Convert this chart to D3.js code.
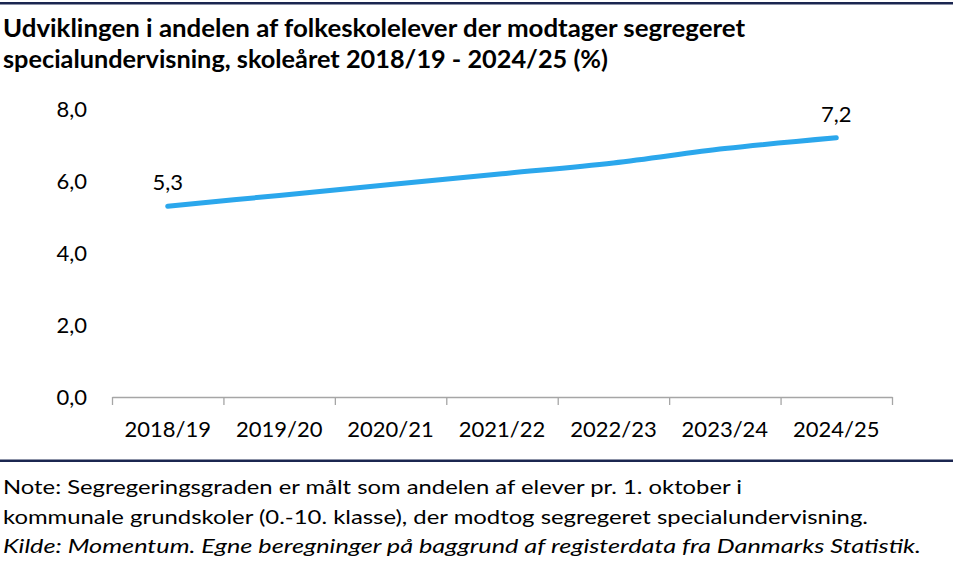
<!DOCTYPE html>
<html>
<head>
<meta charset="utf-8">
<script src="https://cdn.jsdelivr.net/npm/d3@7"></script>
<style>
  html, body { margin: 0; padding: 0; background: #fff; }
  svg { display: block; font-family: Lato, "Open Sans", sans-serif; }
</style>
</head>
<body>
<svg id="chart" width="955" height="582"></svg>
<script>
// ---- data ----
const categories = ["2018/19", "2019/20", "2020/21", "2021/22", "2022/23", "2023/24", "2024/25"];
const values = [5.3, 5.6, 5.9, 6.2, 6.5, 6.9, 7.2];
const yTicks = [0, 2, 4, 6, 8];
const titleLines = [
  "Udviklingen i andelen af folkeskolelever der modtager segregeret",
  "specialundervisning, skoleåret 2018/19 - 2024/25 (%)"
];
const noteLines = [
  "Note: Segregeringsgraden er målt som andelen af elever pr. 1. oktober i",
  "kommunale grundskoler (0.-10. klasse), der modtog segregeret specialundervisning."
];
const sourceLine = "Kilde: Momentum. Egne beregninger på baggrund af registerdata fra Danmarks Statistik.";

const svg = d3.select("#chart");
const navy = "#1b2650";
const lineColor = "#2ba7ec";

const locale = d3.formatLocale({ decimal: ",", thousands: ".", grouping: [3], currency: ["", " kr"] });
const fmt = locale.format(".1f");

// frame lines
svg.append("rect").attr("x", 0).attr("y", 2).attr("width", 953).attr("height", 2.5).attr("fill", navy);
svg.append("rect").attr("x", 0).attr("y", 459.5).attr("width", 953).attr("height", 2.5).attr("fill", navy);

// title
svg.append("g").selectAll("text").data(titleLines).join("text")
  .attr("x", 3)
  .attr("y", (d, i) => 37 + i * 31)
  .attr("font-weight", 700)
  .attr("font-size", 25)
  .attr("fill", "#000")
  .attr("textLength", (d, i) => i === 0 ? 742 : 605)
  .attr("lengthAdjust", "spacingAndGlyphs")
  .text(d => d);

// scales
const x = d3.scaleBand().domain(categories).range([112, 892]).padding(0);
const xIdx = d3.scaleLinear().domain([0, categories.length]).range([112, 892]);
const y = d3.scaleLinear().domain([0, 8]).range([397, 109]);

// x axis: line + boundary ticks
const xAxisTicks = d3.axisBottom(xIdx)
  .tickValues(d3.range(0, categories.length + 1))
  .tickSize(8)
  .tickSizeOuter(0)
  .tickFormat("");
const gx = svg.append("g").attr("transform", "translate(0,397)").call(xAxisTicks);
gx.select(".domain").attr("stroke", "#a6a6a6").attr("stroke-width", 1.3);
gx.selectAll(".tick line").attr("stroke", "#a6a6a6").attr("stroke-width", 1.3);

// x labels
const xLabels = d3.axisBottom(x).tickSize(0).tickPadding(24);
const gxl = svg.append("g").attr("transform", "translate(0,397)").call(xLabels);
gxl.select(".domain").remove();
gxl.selectAll("text").attr("font-size", 22).attr("fill", "#000").attr("font-family", "Lato, sans-serif");

// y axis labels
const yAxis = d3.axisLeft(y).tickValues(yTicks).tickSize(0).tickPadding(0).tickFormat(fmt);
const gy = svg.append("g").attr("transform", "translate(87,0)").call(yAxis);
gy.select(".domain").remove();
gy.selectAll("text").attr("font-size", 22).attr("fill", "#000").attr("font-family", "Lato, sans-serif");

// line
const line = d3.line()
  .x((d, i) => x(categories[i]) + x.bandwidth() / 2)
  .y(d => y(d))
  .curve(d3.curveCatmullRom.alpha(0.5));
svg.append("path").datum(values)
  .attr("d", line)
  .attr("fill", "none")
  .attr("stroke", lineColor)
  .attr("stroke-width", 5)
  .attr("stroke-linecap", "round")
  .attr("stroke-linejoin", "round");

// data labels (first and last)
const labelIdx = [0, values.length - 1];
svg.append("g").selectAll("text").data(labelIdx).join("text")
  .attr("x", i => x(categories[i]) + x.bandwidth() / 2)
  .attr("y", i => y(values[i]) - 16)
  .attr("text-anchor", "middle")
  .attr("font-size", 22)
  .attr("fill", "#000")
  .text(i => fmt(values[i]));

// notes
svg.append("g").selectAll("text").data(noteLines).join("text")
  .attr("x", 3)
  .attr("y", (d, i) => 494 + i * 29.5)
  .attr("font-size", 20)
  .attr("fill", "#000")
  .attr("textLength", (d, i) => i === 0 ? 739 : 865)
  .attr("lengthAdjust", "spacingAndGlyphs")
  .text(d => d);
svg.append("text")
  .attr("x", 3)
  .attr("y", 494 + 2 * 29.5)
  .attr("font-size", 20)
  .attr("font-style", "italic")
  .attr("fill", "#000")
  .attr("textLength", 918)
  .attr("lengthAdjust", "spacingAndGlyphs")
  .text(sourceLine);
</script>
</body>
</html>
